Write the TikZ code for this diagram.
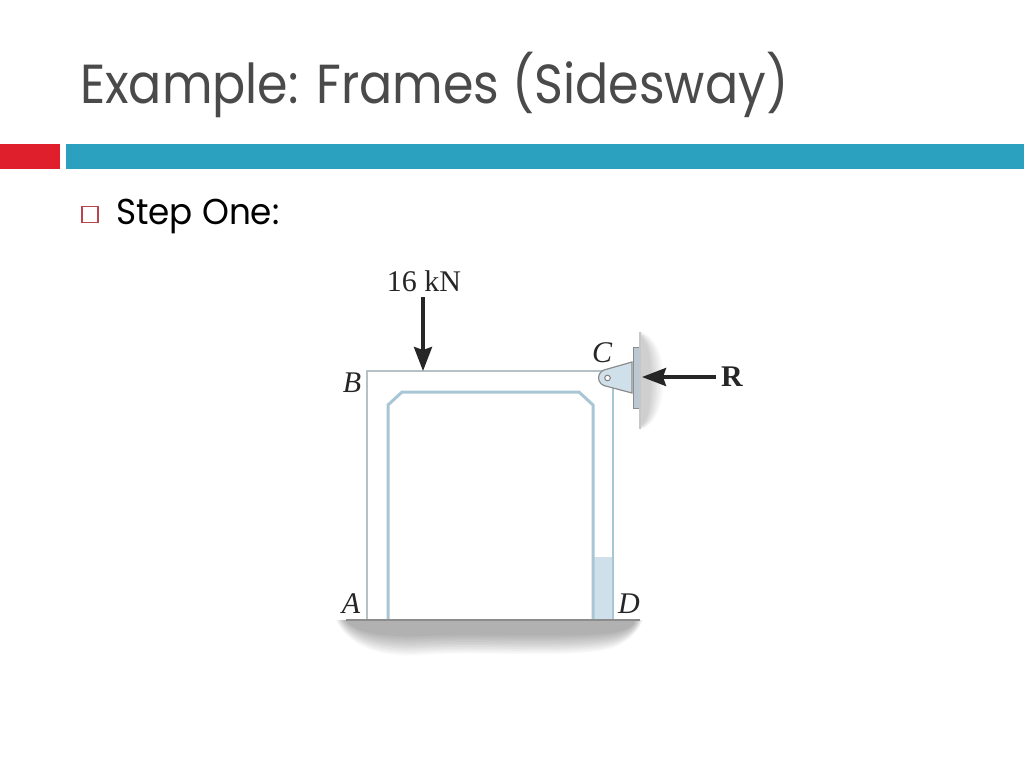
\documentclass[tikz,border=0pt]{standalone}
\usepackage{fontspec}
\setmainfont{Liberation Serif}
\newfontfamily\titlefont{Poppins}
\usetikzlibrary{arrows.meta}
\definecolor{teal1}{HTML}{2BA0BF}
\definecolor{red1}{HTML}{DF1F2B}
\definecolor{titlegray}{HTML}{4A4A4A}
\definecolor{frameout}{HTML}{B4C2C6}
\definecolor{framein}{HTML}{A9C6D4}
\definecolor{fillblue}{HTML}{CFE0EA}
\definecolor{plate}{HTML}{B9C8D2}
\tikzset{
  lab/.style={font=\fontsize{30}{30}\selectfont\itshape, text=black!85, inner sep=0pt},
  load/.style={line width=3.4pt, draw=black!85, -{Stealth[length=24pt,width=18pt,inset=3pt]}},
  outerline/.style={draw=frameout, line width=2.4pt},
  innerline/.style={draw=framein, line width=3pt, line join=miter}
}
\begin{document}
\begin{tikzpicture}[x=1pt,y=-1pt]
\useasboundingbox (0,0) rectangle (1024,768);
\fill[white] (0,0) rectangle (1024,768);
% header
\fill[red1] (0,144) rectangle (60,169);
\fill[teal1] (66,144) rectangle (1024,169);
\node[anchor=base west, inner sep=0pt, text=titlegray, font=\titlefont\fontsize{55}{55}\selectfont, xscale=0.893] (title) at (80,103) {Example: Frames (Sidesway)};
\node[draw=red1!75!black!80, line width=1.4pt, minimum size=16pt, inner sep=0pt] (bullet) at (90,214.5) {};
\node[anchor=base west, inner sep=0pt, text=black, font=\titlefont\fontsize{36}{36}\selectfont, xscale=0.95] (step) at (116,224) {Step One:};
% ground and wall shadow
\foreach \u in {0,0.08,...,0.96}{
  \pgfmathsetmacro{\t}{0.62*\u}
  \fill[black, fill opacity=0.028]
  ({336+16*\t},620) .. controls ({345+15*\t},{620+20*(1-\t)}) and (370,{620+38*(1-\t)}) .. (420,{620+35*(1-\t)})
  .. controls (480,{620+30*(1-\t)}) and (580,{620+40*(1-\t)}) .. (615,{620+27*(1-\t)})
  .. controls (630,{620+20*(1-\t)}) and ({638-8*\t},{620+12*(1-\t)}) .. ({643-14*\t},620) -- cycle;
  \fill[black, fill opacity=0.017]
  (640,{331+8*\t}) .. controls ({640+15*(1-\t)},{337+8*\t}) and ({640+25*(1-\t)},355) .. ({640+23*(1-\t)},380)
  .. controls ({640+25*(1-\t)},405) and ({640+15*(1-\t)},425) .. (640,{430-8*\t}) -- cycle;
}
% frame
\fill[fillblue] (592,557) rectangle (614,620);
\draw[outerline] (367,620) -- (367,371) -- (592,371);
\draw[outerline] (592,371) -- (613,371);
\draw[draw=framein, line width=2.4pt] (613,386) -- (613,620);
\draw[innerline] (388,620) -- (388,405) -- (402,392) -- (579,392) -- (593,405) -- (593,620);
% ground line
\draw[draw=black!45, line width=1.6pt] (346,620) -- (640,620);
% bracket
\draw[draw=black!45, fill=fillblue, line width=1.2pt] (632,362) -- (604,370) arc[start angle=-110,end angle=-250,radius=8.3] -- (632,393) -- cycle;
\draw[draw=black!50, fill=white, line width=1pt] (607.5,378) circle[radius=2.8];
\draw[draw=black!45, fill=plate, line width=1pt] (633,347) rectangle (640,408);
\draw[draw=black!22, line width=1.2pt] (640,332) -- (640,429);
% labels
\node[inner sep=0pt, text=black!85, font=\fontsize{30}{30}\selectfont] (load) at (424,281) {16 kN};
\node[lab] (B) at (352,383) {B};
\node[lab] (C) at (602,353) {C};
\node[lab] (A) at (351,604) {A};
\node[lab] (D) at (629,604) {D};
\node[inner sep=0pt, text=black!85, font=\fontsize{30}{30}\selectfont\bfseries] (R) at (732,377) {R};
% arrows
\coordinate (loadtip) at (423,371);
\coordinate (rtip) at (642,377);
\draw[load] (423,297) -- (loadtip);
\draw[load] (R.west) ++(-5,0) -- (rtip);
\end{tikzpicture}
\end{document}
